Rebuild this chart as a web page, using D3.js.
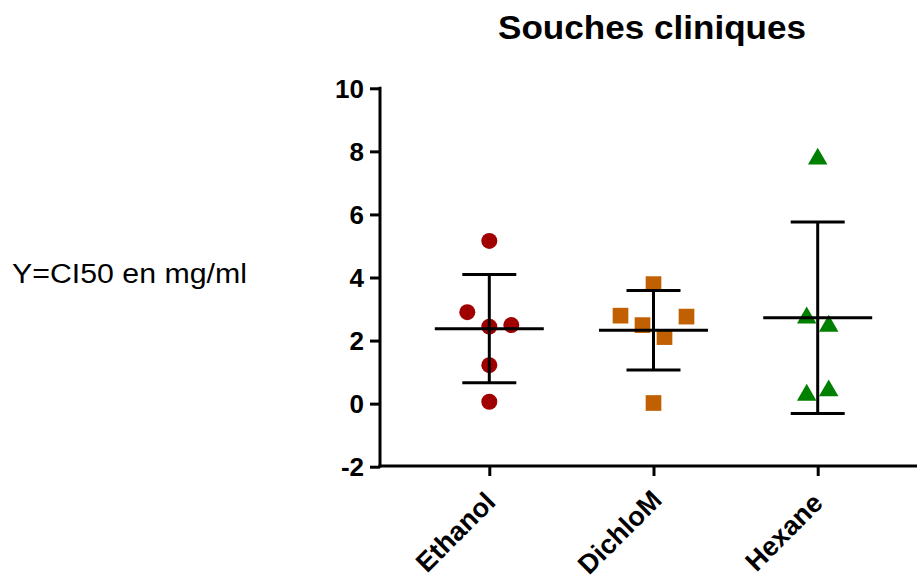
<!DOCTYPE html>
<html>
<head>
<meta charset="utf-8">
<script src="https://cdn.jsdelivr.net/npm/d3@7/dist/d3.min.js"></script>
<style>
  html, body { margin: 0; padding: 0; background: #fff; }
  svg { display: block; }
  text { font-family: "Liberation Sans", Arial, sans-serif; }
</style>
</head>
<body>
<svg id="chart" width="917" height="581"></svg>
<script>
// ---- data ----
const categories = ["Ethanol", "DichloM", "Hexane"];
const ethanolValues = [5.16, 2.90, 2.44, 2.49, 1.22, 0.06];
const ethanolSlots  = [0, -2, 0, 2, 0, 0];
const dichlomValues = [3.79, 2.79, 2.49, 2.76, 2.11, 0.02];
const dichlomSlots  = [0, -3, -1, 3, 1, 0];
const hexaneValues  = [7.76, 2.72, 2.46, 0.27, 0.41];
const hexaneSlots   = [0, -1, 1, -1, 1];
const yTicks = [-2, 0, 2, 4, 6, 8, 10];
const yTickLabels = ["-2", "0", "2", "4", "6", "8", "10"];
const titleText = "Souches cliniques";
const yLabelText = "Y=CI50 en mg/ml";

const groups = [
  { name: categories[0], values: ethanolValues, slots: ethanolSlots, shape: d3.symbolCircle,   color: "#a00000", size: 201 },
  { name: categories[1], values: dichlomValues, slots: dichlomSlots, shape: d3.symbolSquare,   color: "#c06000", size: 246 },
  { name: categories[2], values: hexaneValues,  slots: hexaneSlots,  shape: d3.symbolTriangle, color: "#008000", size: 165 }
];

// ---- layout ----
const svg = d3.select("#chart");
const axisX = 380, axisY = 466, rightEdge = 917;
const slotW = 11;

const y = d3.scaleLinear().domain([-2, 10]).range([466.7, 88.3]);
const x = d3.scalePoint().domain(categories).range([489.3, 817.7]);

// Title
svg.append("text")
  .attr("x", 652).attr("y", 39)
  .attr("text-anchor", "middle")
  .attr("font-size", 33).attr("font-weight", "bold")
  .attr("textLength", 308).attr("lengthAdjust", "spacingAndGlyphs")
  .text(titleText);

// Y label
svg.append("text")
  .attr("x", 12).attr("y", 283)
  .attr("font-size", 27)
  .attr("textLength", 235).attr("lengthAdjust", "spacingAndGlyphs")
  .text(yLabelText);

// Y axis
const yAxis = d3.axisLeft(y).tickValues(yTicks).tickSize(10).tickPadding(6)
  .tickFormat((d, i) => yTickLabels[i]);
const gy = svg.append("g").attr("transform", `translate(${axisX},0)`).call(yAxis);
gy.select(".domain").remove();
gy.selectAll(".tick line").attr("stroke", "#000").attr("stroke-width", 3);
gy.selectAll(".tick text").attr("font-size", 26).attr("font-weight", "bold")
  .attr("font-family", "Liberation Sans, Arial, sans-serif").attr("fill", "#000")
  .attr("dy", "0.34em");
svg.append("line").attr("x1", axisX).attr("x2", axisX)
  .attr("y1", y(10) - 1.5).attr("y2", axisY + 1.5)
  .attr("stroke", "#000").attr("stroke-width", 3);

// X axis
const xAxis = d3.axisBottom(x).tickSize(10).tickFormat("");
const gx = svg.append("g").attr("transform", `translate(0,${axisY})`).call(xAxis);
gx.select(".domain").remove();
gx.selectAll(".tick line").attr("stroke", "#000").attr("stroke-width", 3);
svg.append("line").attr("x1", axisX - 1.5).attr("x2", rightEdge)
  .attr("y1", axisY).attr("y2", axisY)
  .attr("stroke", "#000").attr("stroke-width", 3);

// X labels rotated
svg.append("g").selectAll("text").data(categories).join("text")
  .attr("transform", d => `translate(${x(d) - 34},${532}) rotate(-45)`)
  .attr("text-anchor", "middle")
  .attr("dy", "0.35em")
  .attr("font-size", 27).attr("font-weight", "bold")
  .text(d => d);

// Points
groups.forEach(g => {
  const cx = x(g.name);
  const sym = d3.symbol().type(g.shape).size(g.size);
  svg.append("g").selectAll("path").data(g.values).join("path")
    .attr("d", sym)
    .attr("transform", (v, i) => `translate(${cx + g.slots[i] * slotW},${y(v)})`)
    .attr("fill", g.color);
});

// Mean and SD bars
groups.forEach(g => {
  const cx = x(g.name);
  const m = d3.mean(g.values), sd = d3.deviation(g.values);
  const eg = svg.append("g").attr("stroke", "#000").attr("stroke-width", 3);
  eg.append("line").attr("x1", cx).attr("x2", cx).attr("y1", y(m + sd)).attr("y2", y(m - sd));
  eg.append("line").attr("x1", cx - 54.5).attr("x2", cx + 54.5).attr("y1", y(m)).attr("y2", y(m));
  eg.append("line").attr("x1", cx - 27).attr("x2", cx + 27).attr("y1", y(m + sd)).attr("y2", y(m + sd));
  eg.append("line").attr("x1", cx - 27).attr("x2", cx + 27).attr("y1", y(m - sd)).attr("y2", y(m - sd));
});
</script>
</body>
</html>
